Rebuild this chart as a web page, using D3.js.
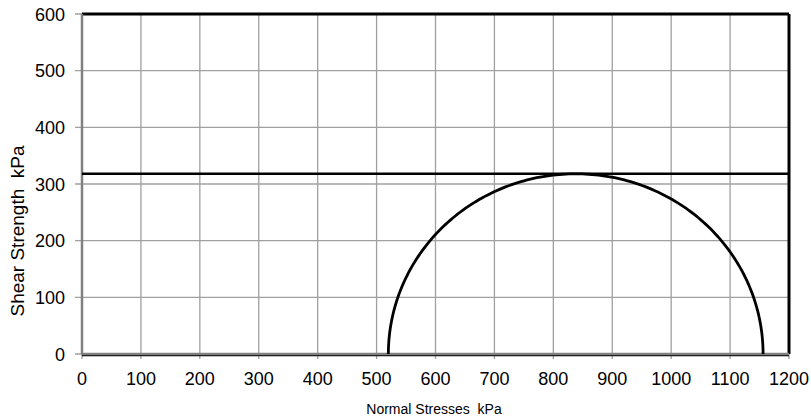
<!DOCTYPE html>
<html><head><meta charset="utf-8">
<script src="https://cdn.jsdelivr.net/npm/d3@7"></script>
<style>body{margin:0;background:#fff}svg{display:block}</style>
</head><body>
<svg id="c" width="811" height="419"></svg>
<script>
const xTicks = [0,100,200,300,400,500,600,700,800,900,1000,1100,1200];
const yTicks = [0,100,200,300,400,500,600];
const sigma3 = 520;     // minor principal stress (kPa)
const sigma1 = 1156;    // major principal stress (kPa)
const shearStrength = 318; // undrained shear strength line (kPa)

const svg = d3.select("#c");
const L = 82, R = 789, T = 14, B = 354;
const x = d3.scaleLinear().domain([0,1200]).range([L,R]);
const y = d3.scaleLinear().domain([0,600]).range([B,T]);
const font = "Liberation Sans, Arial, sans-serif";

// grid
svg.append("g").selectAll("line").data(xTicks).join("line")
  .attr("x1",d=>x(d)).attr("x2",d=>x(d)).attr("y1",T).attr("y2",B+5)
  .attr("stroke","#a0a0a0").attr("stroke-width",1.3);
svg.append("g").selectAll("line").data(yTicks).join("line")
  .attr("x1",L-7).attr("x2",R).attr("y1",d=>y(d)).attr("y2",d=>y(d))
  .attr("stroke","#a0a0a0").attr("stroke-width",1.3);

// border
svg.append("line").attr("x1",L).attr("x2",R).attr("y1",T).attr("y2",T).attr("stroke","#000").attr("stroke-width",3);
svg.append("line").attr("x1",R).attr("x2",R).attr("y1",T).attr("y2",B).attr("stroke","#000").attr("stroke-width",3);
svg.append("line").attr("x1",L).attr("x2",R).attr("y1",B+1.5).attr("y2",B+1.5).attr("stroke","#000").attr("stroke-width",1.5);
svg.append("line").attr("x1",L-1).attr("x2",R).attr("y1",B).attr("y2",B).attr("stroke","#808080").attr("stroke-width",2.5);
svg.append("line").attr("x1",L).attr("x2",L).attr("y1",T).attr("y2",B).attr("stroke","#808080").attr("stroke-width",2.5);

// tick labels
svg.append("g").selectAll("text").data(xTicks).join("text")
  .attr("x",d=>x(d)).attr("y",385).attr("text-anchor","middle")
  .attr("font-family",font).attr("font-size",18).text(d=>d);
svg.append("g").selectAll("text").data(yTicks).join("text")
  .attr("x",65).attr("y",d=>y(d)+6.5).attr("text-anchor","end")
  .attr("font-family",font).attr("font-size",18).text(d=>d);

// titles
svg.append("text").attr("x",434).attr("y",414).attr("text-anchor","middle")
  .attr("font-family",font).attr("font-size",14).attr("xml:space","preserve").text("Normal Stresses  kPa");
svg.append("text").attr("transform",`translate(24,231) rotate(-90)`).attr("text-anchor","middle")
  .attr("font-family",font).attr("font-size",19).attr("xml:space","preserve").text("Shear Strength  kPa");

// shear strength line
svg.append("line").attr("x1",x(0)).attr("x2",x(1200)).attr("y1",y(shearStrength)).attr("y2",y(shearStrength))
  .attr("stroke","#000").attr("stroke-width",2.5);

// Mohr circle
const c = (sigma1+sigma3)/2, r = (sigma1-sigma3)/2;
const pts = d3.range(0,181).map(a=>{const t=a*Math.PI/180; return [c - r*Math.cos(t), r*Math.sin(t)];});
svg.append("path").datum(pts)
  .attr("d", d3.line().x(d=>x(d[0])).y(d=>y(d[1])))
  .attr("fill","none").attr("stroke","#000").attr("stroke-width",2.8);
</script>
</body></html>
